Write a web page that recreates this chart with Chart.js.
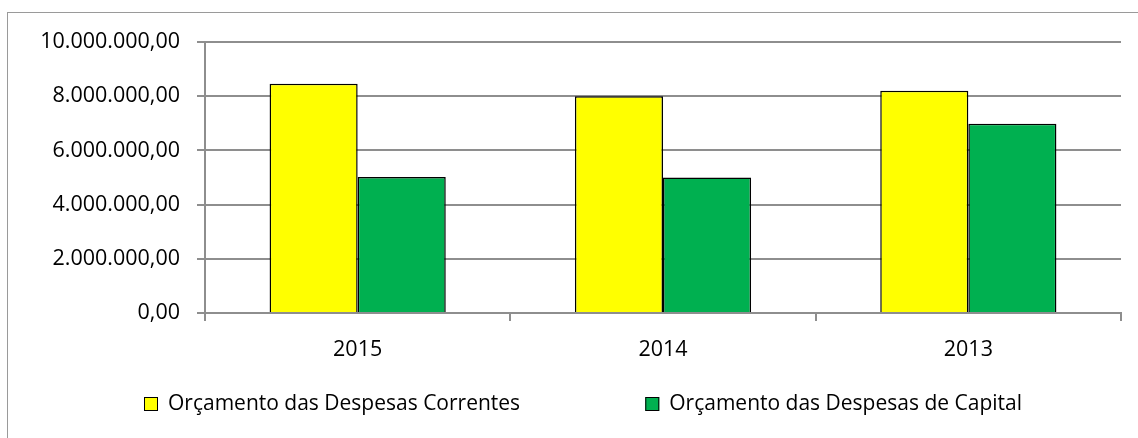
<!DOCTYPE html>
<html><head><meta charset="utf-8">
<script src="https://cdn.jsdelivr.net/npm/chart.js@4/dist/chart.umd.min.js"></script>
<style>html,body{margin:0;padding:0;background:#fff;overflow:hidden}</style>
</head><body>
<canvas id="c" width="1138" height="438"></canvas>
<script>
const categories = ['2015', '2014', '2013'];
const correntes = [8460000, 8000000, 8200000];
const capital = [5020000, 5000000, 6980000];
const yTickValues = [0, 2000000, 4000000, 6000000, 8000000, 10000000];
const seriesNames = ['Orçamento das Despesas Correntes', 'Orçamento das Despesas de Capital'];
const seriesColors = ['#FFFF00', '#00B050'];

function fmtBR(v) {
  const s = Math.round(v).toString().replace(/\B(?=(\d{3})+(?!\d))/g, '.');
  return s + ',00';
}

const FAMILY = "'Open Sans', 'Liberation Sans', sans-serif";
const TICKFONT = { family: FAMILY, size: 21.5 };
const LEGENDSIZE = 21;
const GRID = '#8e8e8e';

const framePlugin = {
  id: 'frame',
  beforeDraw(chart) {
    const c = chart.ctx;
    c.save();
    c.fillStyle = '#fff';
    c.fillRect(0, 0, chart.width, chart.height);
    c.strokeStyle = '#9a9a9a';
    c.lineWidth = 1;
    c.strokeRect(7.5, 12.5, 1400, 800);
    c.restore();
  }
};

const legendPlugin = {
  id: 'customLegend',
  afterDraw(chart) {
    const c = chart.ctx;
    c.save();
    c.font = LEGENDSIZE + 'px ' + FAMILY;
    c.textBaseline = 'middle';
    c.textAlign = 'left';
    const box = 14, gapText = 10, cy = 404;
    const left = 144, right = 1022;
    const w = seriesNames.map(t => c.measureText(t).width);
    const total = box + gapText + w[0] + box + gapText + w[1];
    const gap = (right - left) - total;
    let x = left;
    seriesNames.forEach((name, i) => {
      c.fillStyle = seriesColors[i];
      c.fillRect(x, cy - box / 2, box, box);
      c.strokeStyle = '#000';
      c.lineWidth = 1;
      c.strokeRect(x + 0.5, cy - box / 2 + 0.5, box - 1, box - 1);
      c.fillStyle = '#000';
      c.fillText(name, x + box + gapText, cy);
      x += box + gapText + w[i] + gap;
    });
    c.restore();
  }
};

new Chart(document.getElementById('c'), {
  type: 'bar',
  data: {
    labels: categories,
    datasets: [
      { label: seriesNames[0], data: correntes, backgroundColor: seriesColors[0], borderColor: '#000', borderWidth: 1.5, categoryPercentage: 0.577, barPercentage: 1.0 },
      { label: seriesNames[1], data: capital, backgroundColor: seriesColors[1], borderColor: '#000', borderWidth: 1.5, categoryPercentage: 0.577, barPercentage: 1.0 }
    ]
  },
  options: {
    responsive: false,
    animation: false,
    devicePixelRatio: 1,
    layout: { padding: { top: 42, right: 17, bottom: 75, left: 0 } },
    plugins: { legend: { display: false }, tooltip: { enabled: false } },
    scales: {
      x: {
        grid: { offset: true, drawOnChartArea: false, drawTicks: true, tickLength: 8, color: GRID, lineWidth: 2 },
        border: { display: true, color: GRID, width: 2 },
        ticks: { color: '#000', font: TICKFONT, padding: 16, maxRotation: 0 },
        afterFit(s) { s.height = 50; }
      },
      y: {
        min: 0, max: 10000000,
        afterBuildTicks(s) { s.ticks = yTickValues.map(v => ({ value: v })); },
        grid: { color: GRID, lineWidth: 2, tickLength: 8 },
        border: { display: true, color: GRID, width: 2 },
        ticks: { color: '#000', font: TICKFONT, padding: 17, callback: v => fmtBR(v) },
        afterFit(s) { s.width = 205; }
      }
    }
  },
  plugins: [framePlugin, legendPlugin]
});
</script>
</body></html>
